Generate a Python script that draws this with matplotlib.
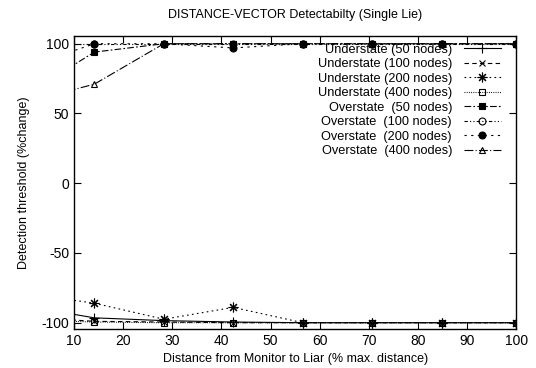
import matplotlib
matplotlib.use('Agg')
from matplotlib import pyplot as plt

plt.rcParams['font.family'] = ['Liberation Sans', 'DejaVu Sans']
plt.rcParams['font.size'] = 9
plt.rcParams['axes.unicode_minus'] = False

# distance from monitor to liar (% of max distance); first point lies left of the plotted range
dist = [0, 14.14, 28.28, 42.43, 56.57, 70.71, 84.85, 100]

under_50 = [-88, -96.5, -98.5, -99.5, -100, -100, -100, -100]
under_100 = [-96, -99, -99.5, -100, -100, -100, -100, -100]
under_200 = [-79, -86, -97.5, -89, -100, -100, -100, -100]
under_400 = [-98, -99.5, -100, -100, -100, -100, -100, -100]
over_50 = [63, 94, 100, 100, 100, 100, 100, 100]
over_100 = [100, 100, 100, 100, 100, 100, 100, 100]
over_200 = [83, 100, 100, 97, 100, 100, 100, 100]
over_400 = [58, 71, 100, 100, 100, 100, 100, 100]

labels = ['Understate (50 nodes)', 'Understate (100 nodes)', 'Understate (200 nodes)',
          'Understate (400 nodes)', 'Overstate  (50 nodes)', 'Overstate  (100 nodes)',
          'Overstate  (200 nodes)', 'Overstate  (400 nodes)']
series = [under_50, under_100, under_200, under_400, over_50, over_100, over_200, over_400]

styles = [
    dict(ls='-', marker='+', mfc='black', ms=7),
    dict(ls=(0, (4, 3)), marker='x', mfc='black', ms=5),
    dict(ls=(0, (1.5, 3)), marker=(8, 2, 0), mfc='black', ms=7),
    dict(ls=(0, (0.8, 1.2)), marker='s', mfc='none', ms=5),
    dict(ls=(0, (6, 2, 1.5, 2)), marker='s', mfc='black', ms=5),
    dict(ls=(0, (3, 2, 1, 2, 1, 2)), marker='o', mfc='none', ms=5),
    dict(ls=(0, (2, 4)), marker='o', mfc='black', ms=5),
    dict(ls=(0, (8, 2, 1, 2)), marker='^', mfc='none', ms=5),
]

fig = plt.figure(figsize=(5.36, 3.68), dpi=100)
ax = fig.add_axes([0.138, 0.106, 0.825, 0.796])

for vals, lab, st in zip(series, labels, styles):
    ax.plot(dist, vals, color='black', lw=0.8, mec='black', mew=0.8, label=lab, **st)

ax.set_xlim(10, 100)
ax.set_ylim(-104.5, 105.5)
ax.set_xticks(range(10, 101, 10))
ax.set_yticks([-100, -50, 0, 50, 100])
ax.tick_params(direction='in', top=True, right=True, length=5, width=0.8, labelsize=10)
for s in ax.spines.values():
    s.set_linewidth(1.0)

ax.set_title('DISTANCE-VECTOR Detectabilty (Single Lie)', fontsize=9, pad=13)
ax.set_xlabel('Distance from Monitor to Liar (% max. distance)', fontsize=9)
ax.set_ylabel('Detection threshold (%change)', fontsize=9, labelpad=8)

leg = ax.legend(loc='upper right', bbox_to_anchor=(0.985, 1.005), frameon=False,
                markerfirst=False, fontsize=9.2, handlelength=2.9, handletextpad=0.9,
                labelspacing=0.2, borderpad=0.2)

fig.savefig('out.png', dpi=100)
